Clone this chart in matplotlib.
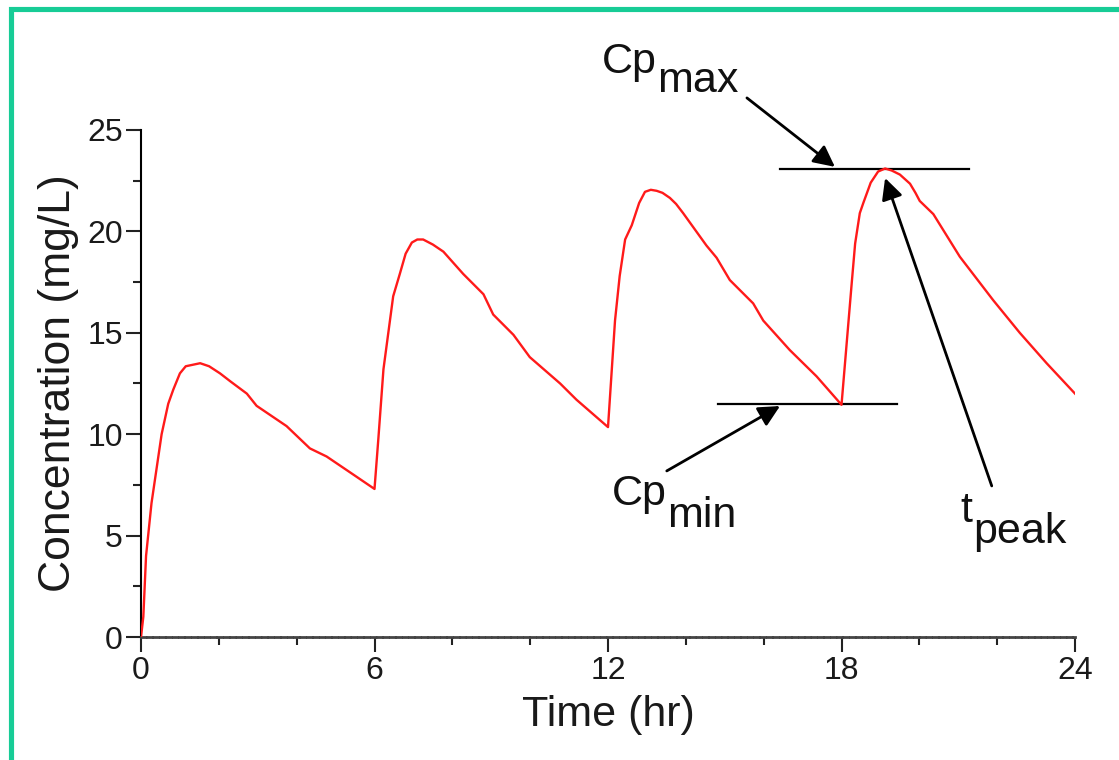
import matplotlib.pyplot as plt
from matplotlib.patches import Rectangle
from matplotlib.ticker import MultipleLocator

# Concentration-time curve for 4 doses, every 6 hr
timeHr = [0, 0.06, 0.13, 0.27, 0.53, 0.7, 0.83, 1.0, 1.15, 1.52, 1.75, 2.03,
          2.3, 2.72, 2.97, 3.74, 4.34, 4.77, 5.54, 6.0,
          6.10, 6.23, 6.48, 6.65, 6.8, 6.96, 7.1, 7.25, 7.5, 7.77, 8.28, 8.80,
          9.05, 9.57, 9.99, 10.77, 11.19, 12.0,
          12.18, 12.3, 12.44, 12.61, 12.8, 12.95, 13.1, 13.25, 13.4, 13.59,
          13.75, 13.93, 14.53, 14.79, 15.13, 15.73, 15.99, 16.67, 17.36, 18.0,
          18.26, 18.35, 18.47, 18.56, 18.75, 18.94, 19.12, 19.29, 19.5, 19.76,
          19.9, 20.01, 20.36, 21.04, 21.90, 22.58, 23.27, 24.0]
concMgL = [0, 1.0, 4.0, 6.6, 10.0, 11.5, 12.2, 13.0, 13.35, 13.5, 13.35, 13.0,
           12.6, 12.0, 11.4, 10.4, 9.3, 8.9, 7.9, 7.3,
           9.8, 13.2, 16.8, 17.9, 18.9, 19.45, 19.6, 19.6, 19.35, 19.0, 17.9, 16.9,
           15.9, 14.9, 13.8, 12.5, 11.7, 10.35,
           15.6, 17.8, 19.6, 20.3, 21.4, 21.95, 22.05, 22.0, 21.9, 21.65,
           21.35, 20.9, 19.3, 18.7, 17.6, 16.45, 15.6, 14.15, 12.85, 11.45,
           17.4, 19.4, 20.9, 21.4, 22.4, 22.95, 23.1, 23.0, 22.8, 22.35,
           21.9, 21.5, 20.85, 18.75, 16.6, 15.0, 13.5, 12.0]

xTicks = [0, 6, 12, 18, 24]
yTicks = [0, 5, 10, 15, 20, 25]

# reference levels and peak time
cpMax = 23.08
cpMin = 11.49
tPeak = 19.12

plt.rcParams['font.family'] = ['Liberation Sans', 'DejaVu Sans']

fig = plt.figure(figsize=(11.19, 7.6), dpi=100)
ax = fig.add_axes([0.126, 0.1618, 0.8347, 0.6672])

# green frame around the picture
fig.patches.append(Rectangle((10.5 / 1119, -0.05), 1.2, 1 - 8.5 / 760 + 0.05,
                             transform=fig.transFigure, fill=False,
                             edgecolor='#17cc96', linewidth=3.7))

ax.plot(timeHr, concMgL, color='#ff1a1a', linewidth=1.7, zorder=3,
        solid_joinstyle='round')

ax.set_xlim(0, 24)
ax.set_ylim(0, 25)
ax.set_xticks(xTicks, labels=[str(t) for t in xTicks])
ax.set_yticks(yTicks, labels=[str(v) for v in yTicks])
ax.xaxis.set_minor_locator(MultipleLocator(2))
ax.yaxis.set_minor_locator(MultipleLocator(2.5))

for side in ['top', 'right']:
    ax.spines[side].set_visible(False)
ax.spines['left'].set_linewidth(1.5)
ax.spines['bottom'].set_linewidth(2)
ax.spines['bottom'].set_color('#444444')
ax.spines['bottom'].set_linestyle((0, (1.5, 0.8)))

ax.tick_params(which='major', length=11, width=1.5, color='#222222',
               labelsize=23, labelcolor='#1a1a1a')
ax.tick_params(which='minor', length=6, width=1.5, color='#222222')
ax.tick_params(axis='x', which='major', pad=3)
ax.tick_params(axis='y', which='major', pad=2)

ax.set_xlabel('Time (hr)', fontsize=31, color='#1a1a1a', labelpad=6)
ax.set_ylabel('Concentration (mg/L)', fontsize=32, color='#1a1a1a', labelpad=6)

# Cpmax / Cpmin reference lines
ax.plot([16.42, 21.28], [cpMax, cpMax], color='black', linewidth=1.6, clip_on=False)
ax.plot([14.83, 19.43], [cpMin, cpMin], color='black', linewidth=1.6, clip_on=False)

arrowStyle = dict(arrowstyle='-|>', color='black', lw=2, mutation_scale=32,
                  shrinkA=0, shrinkB=0)
ax.annotate('', xy=(17.83, cpMax + 0.1), xytext=(15.57, 26.58),
            arrowprops=arrowStyle, annotation_clip=False)
ax.annotate('', xy=(16.42, cpMin - 0.1), xytext=(13.51, 8.19),
            arrowprops=arrowStyle, annotation_clip=False)
ax.annotate('', xy=(tPeak, 22.63), xytext=(21.86, 7.45),
            arrowprops=arrowStyle, annotation_clip=False)

# labels: main text plus a large subscript
textStyle = dict(fontsize=31, color='#111111', va='baseline', clip_on=False)
ax.text(13.26, 27.81, 'Cp', ha='right', **textStyle)
ax.text(13.26, 26.87, 'max', ha='left', **textStyle)
ax.text(13.51, 6.51, 'Cp', ha='right', **textStyle)
ax.text(13.53, 5.42, 'min', ha='left', **textStyle)
ax.text(21.36, 5.67, 't', ha='right', **textStyle)
ax.text(21.38, 4.63, 'peak', ha='left', **textStyle)

fig.savefig('out.png', dpi=100, facecolor='white')
